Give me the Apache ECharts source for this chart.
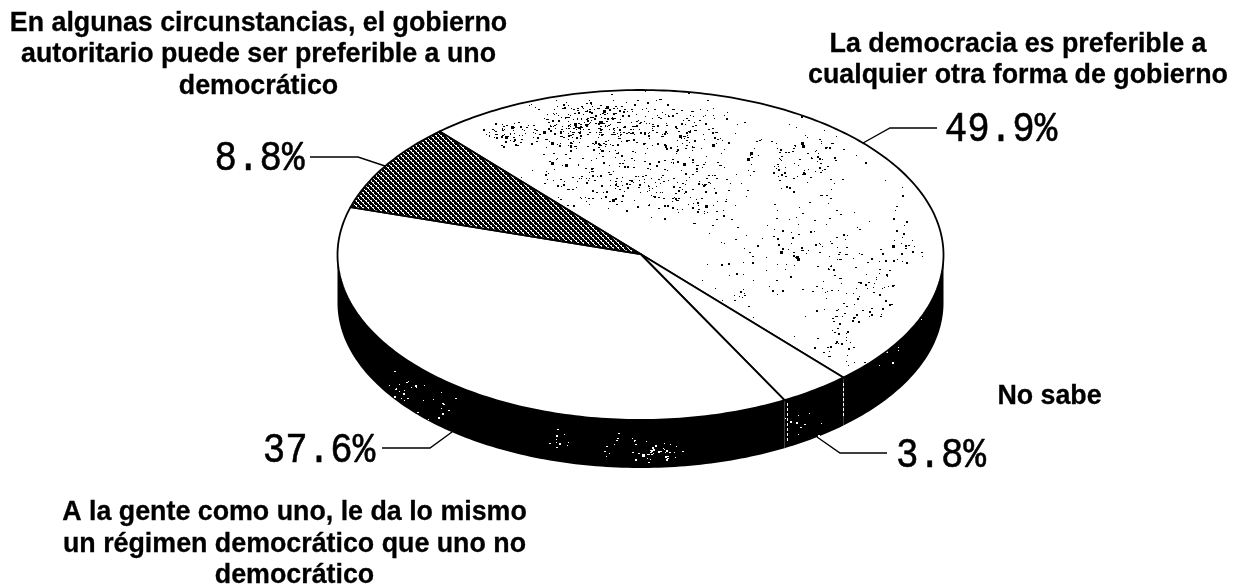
<!DOCTYPE html>
<html><head><meta charset="utf-8">
<style>html,body{margin:0;padding:0;background:#fff}#c{width:1239px;height:588px}</style>
<script src="https://cdn.jsdelivr.net/npm/echarts@6/dist/echarts.min.js"></script>
</head><body><div id="c"></div>
<script>
// ---- data ----
const categories = [
  'La democracia es preferible a cualquier otra forma de gobierno',
  'No sabe',
  'A la gente como uno, le da lo mismo un régimen democrático que uno no democrático',
  'En algunas circunstancias, el gobierno autoritario puede ser preferible a uno democrático'
];
const values = [49.9, 3.8, 37.6, 8.8];
const captionLines = [
  ['La democracia es preferible a', 'cualquier otra forma de gobierno'],
  ['No sabe'],
  ['A la gente como uno, le da lo mismo', 'un régimen democrático que uno no', 'democrático'],
  ['En algunas circunstancias, el gobierno', 'autoritario puede ser preferible a uno', 'democrático']
];

// ---- layout ----
const CX = 640.5, CY = 255, RX = 303, RY = 165, DEPTH = 48, START = -41.5;
const captionPos = [[1018, 44.5], [1049.5, 397], [294.5, 513], [258.5, 23.5]];
const pctPos = [[1001, 130], [941, 456], [319, 451], [259.5, 159]];
const leaders = [
  [[863, 143], [890, 128], [937, 128]],
  [[817, 437], [840, 453], [887, 453]],
  [[382, 448], [430, 448], [452, 432]],
  [[310, 157], [358, 157], [385, 166]]
];

// ---- textures ----
function rng(seed) { let s = seed; return () => (s = (s * 1664525 + 1013904223) >>> 0) / 4294967296; }
function gauss(r) { return (r() + r() + r() + r() - 2) * 1.2; }
function sheet(bg) {
  const cv = document.createElement('canvas'); cv.width = 1239; cv.height = 588;
  const g = cv.getContext('2d');
  if (bg) { g.fillStyle = bg; g.fillRect(0, 0, 1239, 588); }
  return [cv, g];
}
function speckle(g, colour, lumps, seed) {
  const r = rng(seed); g.fillStyle = colour;
  lumps.forEach(([x, y, sx, sy, n]) => {
    for (let i = 0; i < n; i++) {
      const s = r() < 0.06 ? 3 : r() < 0.5 ? 2 : 1;
      g.fillRect(Math.round(x + gauss(r) * sx), Math.round(y + gauss(r) * sy), s, s > 1 && r() < .6 ? 1 : s);
    }
  });
}
const [dotCv, dotG] = sheet('#fff');
speckle(dotG, '#000', [
  [585, 128, 42, 24, 320], [505, 132, 14, 10, 50], [670, 130, 42, 24, 170], [610, 182, 52, 18, 150],
  [690, 195, 38, 25, 100], [795, 160, 50, 28, 110], [800, 240, 45, 30, 80], [850, 290, 40, 35, 90],
  [740, 280, 40, 25, 30], [910, 230, 20, 30, 25], [835, 345, 22, 18, 30]
], 7);
const [sideCv, sideG] = sheet('#000');
speckle(sideG, '#fff', [
  [655, 452, 18, 7, 40], [400, 388, 18, 12, 22], [432, 408, 22, 10, 12], [560, 440, 9, 7, 10],
  [610, 445, 14, 8, 10], [805, 425, 14, 9, 10], [880, 360, 15, 10, 8], [920, 320, 6, 6, 2]
], 11);
sideG.fillStyle = '#fff';
[[787, 403, 440], [843, 383, 418]].forEach(([x, a, b]) => { for (let y = a; y < b; y += 5) sideG.fillRect(x, y, 1, 3); });
const hatchCv = document.createElement('canvas'); hatchCv.width = hatchCv.height = 5;
const hg = hatchCv.getContext('2d');
hg.fillStyle = '#000'; hg.fillRect(0, 0, 5, 5);
hg.fillStyle = '#fff';
[[0, 0], [1, 1], [2, 2], [3, 3], [4, 4], [1, 0], [3, 2]].forEach(([x, y]) => hg.fillRect(x, y, 1, 1));
const fills = [
  { image: dotCv, repeat: 'no-repeat' },
  '#fff',
  '#fff',
  { image: hatchCv, repeat: 'repeat' }
];

// ---- geometry ----
const total = values.reduce((a, b) => a + b, 0);
function pt(deg, dy) {
  const t = deg * Math.PI / 180;
  return [CX + RX * Math.sin(t), CY - RY * Math.cos(t) + (dy || 0)];
}
function arc(a, b, dy) {
  const out = [], n = Math.max(2, Math.ceil(Math.abs(b - a)));
  for (let i = 0; i <= n; i++) out.push(pt(a + (b - a) * i / n, dy));
  return out;
}
function renderItem(params, api) {
  const i = params.dataIndex;
  let before = 0;
  for (let k = 0; k < i; k++) before += values[k];
  const a = START + before / total * 360;
  const b = a + api.value(1) / total * 360;
  const children = [];
  const sa = Math.max(a, 90), sb = Math.min(b, 270);
  if (sb > sa) {
    children.push({
      type: 'polygon',
      shape: { points: arc(sa, sb, 0).concat(arc(sb, sa, DEPTH)) },
      style: { fill: { image: sideCv, repeat: 'no-repeat' }, stroke: null }
    });
  }
  children.push({
    type: 'polygon',
    shape: { points: [[CX, CY - 1]].concat(arc(a, b, 0)) },
    style: { fill: fills[i], stroke: '#000', lineWidth: 1.8, lineJoin: 'round' }
  });
  return { type: 'group', children };
}

// ---- text and leaders ----
const graphics = [];
captionLines.forEach((lines, i) => {
  lines.forEach((t, j) => graphics.push({
    type: 'text', silent: true,
    style: {
      x: captionPos[i][0], y: captionPos[i][1] + j * 31.5, text: t, align: 'center', verticalAlign: 'middle',
      font: 'bold 26.8px "Liberation Sans", Arial, sans-serif', fill: '#000', stroke: '#000', lineWidth: 0.3
    }
  }));
});
values.forEach((v, i) => {
  graphics.push({
    type: 'text', silent: true,
    x: pctPos[i][0], y: pctPos[i][1], scaleY: 1.12,
    style: {
      x: 0, y: 0, text: v.toFixed(1) + '%', align: 'center', verticalAlign: 'middle',
      font: '37.5px "Liberation Mono", monospace', fill: '#000', stroke: '#000', lineWidth: 0.5
    }
  });
  graphics.push({
    type: 'polyline', silent: true,
    shape: { points: leaders[i] },
    style: { stroke: '#000', lineWidth: 1.4, fill: null }
  });
});

const chart = echarts.init(document.getElementById('c'), null, { renderer: 'canvas' });
chart.setOption({
  animation: false,
  backgroundColor: '#fff',
  graphic: { elements: graphics },
  series: [{
    type: 'custom',
    renderItem,
    coordinateSystem: 'none',
    encode: { itemName: 0, value: 1 },
    data: categories.map((c, i) => [c, values[i]])
  }]
});
</script></body></html>
